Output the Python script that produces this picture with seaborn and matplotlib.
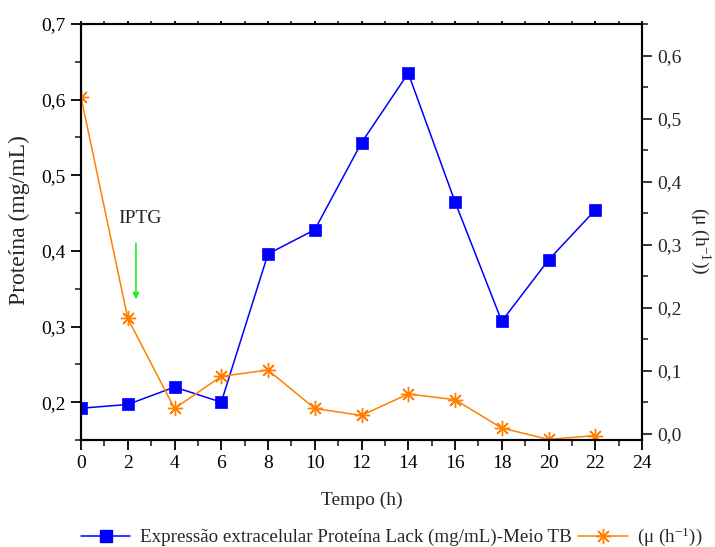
import numpy as np
import pandas as pd
import matplotlib
matplotlib.use("Agg")
import matplotlib.pyplot as plt
from matplotlib.ticker import MultipleLocator, FuncFormatter
from matplotlib.lines import Line2D
import seaborn as sns

# Time points (h)
tempo = [0, 2, 4, 6, 8, 10, 12, 14, 16, 18, 20, 22]
# Extracellular Lack protein (mg/mL), TB medium
proteina = [0.192, 0.197, 0.220, 0.200, 0.396, 0.428, 0.543, 0.635, 0.465, 0.307, 0.388, 0.454]
# Specific growth rate mu (h^-1)
mu = [0.534, 0.183, 0.040, 0.091, 0.101, 0.040, 0.029, 0.063, 0.054, 0.009, -0.009, -0.003]

lbl_prot = "Expressão extracelular Proteína Lack (mg/mL)-Meio TB"
lbl_mu = r"($\mathregular{\mu}$ (h$\mathregular{^{-1}}$))"

df = pd.DataFrame({"tempo": tempo, "proteina": proteina, "mu": mu})

sns.set_style("ticks")
plt.rcParams["font.family"] = ["Liberation Serif", "DejaVu Serif"]
plt.rcParams["mathtext.fontset"] = "custom"
plt.rcParams["mathtext.rm"] = "Liberation Serif"
plt.rcParams["mathtext.it"] = "Liberation Serif:italic"

BLUE = "#0000ff"
ORANGE = "#ff8000"

fig = plt.figure(figsize=(7.15, 5.47), dpi=100)
ax = fig.add_axes([0.1133, 0.1956, 0.7846, 0.7605])
ax2 = ax.twinx()

sns.lineplot(data=df, x="tempo", y="proteina", ax=ax, color=BLUE, lw=1.1,
             marker="s", markersize=8, markeredgecolor=BLUE, markeredgewidth=0.5,
             legend=False, zorder=3)
sns.lineplot(data=df, x="tempo", y="mu", ax=ax2, color=ORANGE, lw=1.1,
             marker=(8, 2, 0), markersize=11, markeredgecolor=ORANGE,
             markeredgewidth=1.0, legend=False)

ax.set_xlim(0, 24)
ax.set_ylim(0.15, 0.7)
ax2.set_ylim(-0.01, 0.65)

comma = FuncFormatter(lambda v, p: f"{v:.1f}".replace(".", ","))
ax.xaxis.set_major_locator(MultipleLocator(2))
ax.xaxis.set_minor_locator(MultipleLocator(1))
ax.yaxis.set_major_locator(MultipleLocator(0.1))
ax.yaxis.set_minor_locator(MultipleLocator(0.05))
ax.yaxis.set_major_formatter(comma)
ax2.yaxis.set_major_locator(MultipleLocator(0.1))
ax2.yaxis.set_minor_locator(MultipleLocator(0.05))
ax2.yaxis.set_major_formatter(comma)

for a in (ax, ax2):
    for s in a.spines.values():
        s.set_visible(True)
        s.set_linewidth(1.5)
        s.set_color("black")

ax.tick_params(axis="both", which="major", direction="out", length=7, width=1.3,
               labelsize=14, pad=4, colors="black")
ax.tick_params(axis="both", which="minor", direction="out", length=4, width=1.2)
ax.tick_params(axis="x", which="both", top=True, labeltop=False)
ax2.tick_params(axis="y", which="major", direction="out", length=7, width=1.3,
                labelsize=14, pad=4)
ax2.tick_params(axis="y", which="minor", direction="out", length=4, width=1.2)

# top ticks drawn short
for t in ax.xaxis.get_major_ticks() + ax.xaxis.get_minor_ticks():
    t.tick2line.set_markersize(2.5)

ax.set_xlabel("Tempo (h)", fontsize=14, labelpad=14)
ax.set_ylabel("Proteína (mg/mL)", fontsize=17, va="center", ha="center")
ax.yaxis.set_label_coords(-0.1105, 0.529)
ax2.set_ylabel(lbl_mu, fontsize=14, rotation=-90, va="center", ha="center")
ax2.yaxis.set_label_coords(1.1034, 0.48)

# IPTG induction marker
ax.text(2.52, 0.443, "IPTG", fontsize=14, ha="center", va="center")
ax.annotate("", xy=(2.35, 0.336), xytext=(2.35, 0.410),
            arrowprops=dict(arrowstyle="-|>", color="#22ee22", lw=1.2,
                            mutation_scale=9, shrinkA=0, shrinkB=0))

handles = [
    Line2D([], [], color=BLUE, lw=1.1, marker="s", markersize=8),
    Line2D([], [], color=ORANGE, lw=1.1, marker=(8, 2, 0), markersize=11,
           markeredgewidth=1.0),
]
fig.legend(handles, [lbl_prot, lbl_mu], loc="lower center", ncol=2,
           bbox_to_anchor=(0.548, -0.034), frameon=False, fontsize=13.7,
           handlelength=2.6, columnspacing=0.35, handletextpad=0.5)

fig.savefig("out.png", dpi=100)
